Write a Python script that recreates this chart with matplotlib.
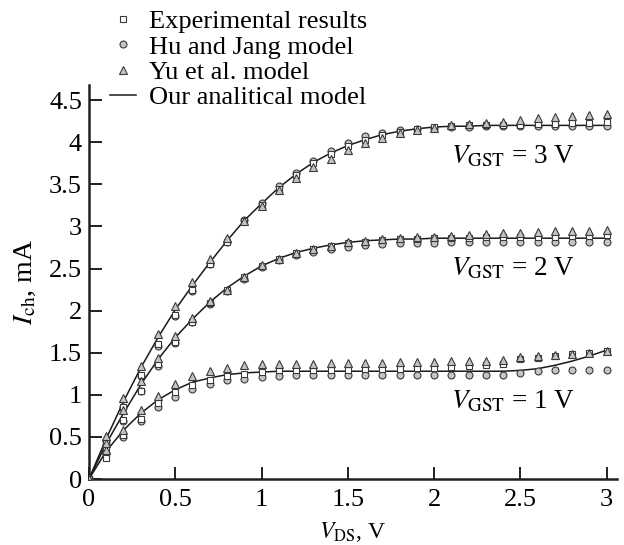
import matplotlib
matplotlib.use("Agg")
import matplotlib.pyplot as plt

# drain-source voltage, V
vds = [0.0, 0.1, 0.2, 0.3, 0.4, 0.5, 0.6, 0.7, 0.8, 0.9, 1.0,
       1.1, 1.2, 1.3, 1.4, 1.5, 1.6, 1.7, 1.8, 1.9, 2.0,
       2.1, 2.2, 2.3, 2.4, 2.5, 2.6, 2.7, 2.8, 2.9, 3.0]

# V_GST = 1 V
model_1 = [0, 0.33, 0.58, 0.78, 0.94, 1.06, 1.15, 1.20, 1.24, 1.26, 1.27,
           1.28, 1.28, 1.28, 1.28, 1.28, 1.28, 1.28, 1.28, 1.28, 1.28,
           1.28, 1.28, 1.28, 1.28, 1.29, 1.31, 1.35, 1.40, 1.46, 1.53]
exp_1 = [0, 0.25, 0.52, 0.71, 0.90, 1.03, 1.12, 1.18, 1.22, 1.25, 1.27,
         1.29, 1.29, 1.30, 1.30, 1.30, 1.31, 1.31, 1.31, 1.32, 1.32,
         1.33, 1.34, 1.35, 1.36, 1.42, 1.44, 1.46, 1.48, 1.50, 1.52]
hu_1 = [0, 0.31, 0.50, 0.69, 0.86, 0.97, 1.07, 1.13, 1.17, 1.19, 1.21,
        1.22, 1.23, 1.24, 1.24, 1.24, 1.24, 1.24, 1.24, 1.24, 1.24,
        1.24, 1.24, 1.24, 1.24, 1.26, 1.28, 1.29, 1.29, 1.29, 1.29]
yu_1 = [0, 0.34, 0.58, 0.82, 0.98, 1.13, 1.22, 1.28, 1.32, 1.35, 1.36,
        1.37, 1.37, 1.37, 1.38, 1.38, 1.38, 1.38, 1.39, 1.39, 1.39,
        1.40, 1.40, 1.40, 1.41, 1.45, 1.46, 1.47, 1.49, 1.50, 1.52]

# V_GST = 2 V
model_2 = [0, 0.42, 0.78, 1.12, 1.42, 1.68, 1.90, 2.10, 2.27, 2.41, 2.53,
           2.62, 2.69, 2.74, 2.78, 2.81, 2.83, 2.84, 2.85, 2.85, 2.86,
           2.86, 2.86, 2.86, 2.86, 2.86, 2.86, 2.86, 2.86, 2.86, 2.86]
exp_2 = [0, 0.38, 0.70, 1.05, 1.36, 1.63, 1.87, 2.09, 2.25, 2.40, 2.53,
         2.61, 2.68, 2.73, 2.77, 2.80, 2.82, 2.84, 2.85, 2.85, 2.86,
         2.86, 2.86, 2.87, 2.87, 2.87, 2.88, 2.88, 2.89, 2.89, 2.90]
hu_2 = [0, 0.40, 0.69, 1.04, 1.34, 1.61, 1.86, 2.08, 2.23, 2.38, 2.52,
        2.60, 2.66, 2.70, 2.73, 2.76, 2.78, 2.79, 2.80, 2.80, 2.80,
        2.81, 2.81, 2.81, 2.81, 2.81, 2.81, 2.81, 2.81, 2.81, 2.81]
yu_2 = [0, 0.43, 0.82, 1.16, 1.44, 1.70, 1.91, 2.11, 2.25, 2.40, 2.54,
        2.61, 2.68, 2.73, 2.77, 2.81, 2.83, 2.85, 2.86, 2.87, 2.88,
        2.89, 2.90, 2.91, 2.92, 2.92, 2.93, 2.94, 2.95, 2.95, 2.96]

# V_GST = 3 V
model_3 = [0, 0.48, 0.92, 1.32, 1.68, 2.01, 2.30, 2.57, 2.83, 3.07, 3.27,
           3.46, 3.62, 3.76, 3.87, 3.96, 4.03, 4.09, 4.13, 4.16, 4.18,
           4.19, 4.19, 4.20, 4.20, 4.20, 4.20, 4.20, 4.20, 4.20, 4.20]
exp_3 = [0, 0.44, 0.86, 1.24, 1.60, 1.95, 2.25, 2.55, 2.82, 3.06, 3.26,
         3.45, 3.61, 3.75, 3.86, 3.95, 4.03, 4.08, 4.12, 4.16, 4.18,
         4.19, 4.20, 4.20, 4.21, 4.21, 4.22, 4.22, 4.23, 4.23, 4.24]
hu_3 = [0, 0.45, 0.85, 1.22, 1.58, 1.94, 2.23, 2.55, 2.82, 3.08, 3.28,
        3.48, 3.64, 3.78, 3.90, 3.99, 4.07, 4.11, 4.14, 4.16, 4.17,
        4.18, 4.18, 4.19, 4.19, 4.19, 4.19, 4.19, 4.19, 4.19, 4.19]
yu_3 = [0, 0.51, 0.96, 1.34, 1.72, 2.05, 2.34, 2.61, 2.86, 3.07, 3.24,
        3.43, 3.57, 3.71, 3.80, 3.91, 3.99, 4.05, 4.11, 4.14, 4.17,
        4.20, 4.22, 4.23, 4.24, 4.26, 4.29, 4.30, 4.31, 4.32, 4.33]

curve_labels = [r"$V_{\rm GST}$ = 1 V", r"$V_{\rm GST}$ = 2 V", r"$V_{\rm GST}$ = 3 V"]
label_pos = [(2.10, 0.84), (2.10, 2.42), (2.10, 3.75)]

x_ticks = [0, 0.5, 1, 1.5, 2, 2.5, 3]
x_tick_labels = ["0", "0.5", "1", "1.5", "2", "2.5", "3"]
y_ticks = [0, 0.5, 1, 1.5, 2, 2.5, 3, 3.5, 4, 4.5]
y_tick_labels = ["0", "0.5", "1", "1.5", "2", "2.5", "3", "3.5", "4", "4.5"]

plt.rcParams["font.family"] = ["Liberation Serif", "DejaVu Serif"]
plt.rcParams["mathtext.fontset"] = "stix"
plt.rcParams["font.size"] = 19

fig = plt.figure(figsize=(6.24, 5.45), dpi=100)
ax = fig.add_axes([0.1426, 0.1211, 0.846, 0.723])

edge = "#3a3a3a"
fill = "#c4c4c4"

groups = [(model_1, exp_1, hu_1, yu_1),
          (model_2, exp_2, hu_2, yu_2),
          (model_3, exp_3, hu_3, yu_3)]

for i, (model, exp, hu, yu) in enumerate(groups):
    first = i == 0
    ax.plot(vds, model, color="#1a1a1a", lw=1.1, zorder=2,
            label="Our analitical model" if first else None)
    ax.plot(vds, hu, ls="none", marker="o", ms=5.0, mfc=fill, mec=edge,
            mew=0.8, zorder=3, label="Hu and Jang model" if first else None)
    ax.plot(vds, exp, ls="none", marker="s", ms=4.3, mfc="white", mec=edge,
            mew=0.8, zorder=4, label="Experimental results" if first else None)
    ax.plot(vds, yu, ls="none", marker="^", ms=5.6, mfc=fill, mec=edge,
            mew=0.8, zorder=5, label="Yu et al. model" if first else None)

for text, (tx, ty) in zip(curve_labels, label_pos):
    ax.text(tx, ty, text, fontsize=19.5, ha="left", va="baseline")

ax.set_xlim(0, 3.06)
ax.set_ylim(0, 4.68)
ax.set_xticks(x_ticks)
ax.set_xticklabels(x_tick_labels)
ax.set_yticks(y_ticks)
ax.set_yticklabels(y_tick_labels)

for side in ["top", "right"]:
    ax.spines[side].set_visible(False)
for side in ["left", "bottom"]:
    ax.spines[side].set_linewidth(1.8)
    ax.spines[side].set_color("#202020")
ax.tick_params(direction="in", length=9, width=1.4, color="#202020",
               labelsize=19)
ax.tick_params(axis="x", pad=7)
ax.tick_params(axis="y", pad=5)

ax.set_xlabel(r"$V_{\rm DS}$, V", fontsize=17, labelpad=7)
ax.set_ylabel(r"$I_{\rm ch}$, mA", fontsize=20, labelpad=8)

handles, labels = ax.get_legend_handles_labels()
order = ["Experimental results", "Hu and Jang model", "Yu et al. model",
         "Our analitical model"]
hmap = dict(zip(labels, handles))
leg = fig.legend([hmap[k] for k in order], order, loc="upper left",
                 bbox_to_anchor=(0.176, 0.982), frameon=False, fontsize=19,
                 handlelength=1.0, handletextpad=0.5, labelspacing=0.07,
                 borderpad=0, borderaxespad=0)

fig.savefig("out.png", dpi=100)
